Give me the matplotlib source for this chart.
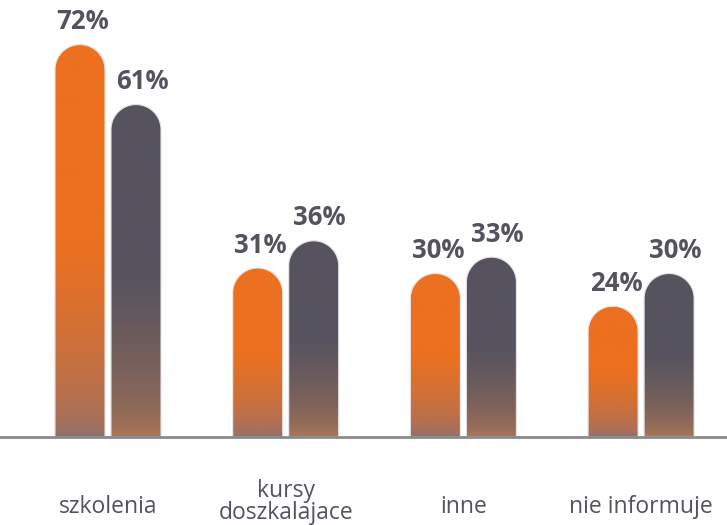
import numpy as np
import matplotlib
matplotlib.use("Agg")
import matplotlib.pyplot as plt
from matplotlib.path import Path
from matplotlib.patches import PathPatch
from matplotlib.colors import to_rgb

categories = ["szkolenia", "kursy\ndoszkalajace", "inne", "nie informuje"]
series_a = [72, 31, 30, 24]   # orange
series_b = [61, 36, 33, 30]   # dark gray

ORANGE, ORANGE_BOT = "#ec7020", "#887075"
GRAY, GRAY_BOT = "#56535f", "#b87a55"
TXT = "#55525e"
plt.rcParams["font.family"] = ["Open Sans", "DejaVu Sans"]

W, H, DPI = 727, 525, 100
fig = plt.figure(figsize=(W / DPI, H / DPI), dpi=DPI)
ax = fig.add_axes([0, 0, 1, 1])

# pixel geometry -> data limits
base_px = 88          # baseline height above bottom edge
py = 5.45             # px per percent
gx = 177.7            # px per group
x0 = 108              # px of first group center
ax.set_ylim(-base_px / py, (H - base_px) / py)
ax.set_xlim(-x0 / gx, (W - x0) / gx)
ax.axis("off")

bw = 50 / gx
off = 28 / gx
ry = 25 / py          # semicircle half-height in data units


def rounded_bar(xc, h, top, bot):
    rx = bw / 2
    t = np.linspace(np.pi, 0, 40)
    verts = [(xc - rx, 0), (xc - rx, h - ry)]
    verts += [(xc + rx * np.cos(a), h - ry + ry * np.sin(a)) for a in t]
    verts += [(xc + rx, 0), (xc - rx, 0)]
    codes = [Path.MOVETO] + [Path.LINETO] * (len(verts) - 2) + [Path.CLOSEPOLY]
    path = Path(verts, codes)
    patch = PathPatch(path, facecolor="none", edgecolor="#e4e2e4", lw=0.8, zorder=3)
    ax.add_patch(patch)
    # vertical gradient, strongest near the baseline
    n = 512
    f = np.linspace(0, 1, n)                 # 0 bottom -> 1 top
    w = np.sqrt(np.clip(f / 0.5, 0, 1))
    c0, c1 = np.array(to_rgb(bot)), np.array(to_rgb(top))
    img = c0[None, :] * (1 - w[:, None]) + c1[None, :] * w[:, None]
    img = np.repeat(img[:, None, :], 2, axis=1)
    im = ax.imshow(img, extent=(xc - rx, xc + rx, 0, h), origin="lower",
                   aspect="auto", zorder=2, interpolation="bilinear")
    im.set_clip_path(patch)


for i, (a, b) in enumerate(zip(series_a, series_b)):
    rounded_bar(i - off, a, ORANGE, ORANGE_BOT)
    rounded_bar(i + off, b, GRAY, GRAY_BOT)
    ax.text(i - off + 3 / gx, a + 23 / py, f"{a}%", ha="center", va="center",
            fontsize=18.5, fontweight="bold", color=TXT)
    ax.text(i + off + 6 / gx, b + 23 / py, f"{b}%", ha="center", va="center",
            fontsize=18.5, fontweight="bold", color=TXT)
    ylab = -65 / py if "\n" in categories[i] else -70 / py
    ax.text(i, ylab, categories[i], ha="center", va="center",
            fontsize=16.5, color=TXT, linespacing=0.9)

ax.axhline(0, color="#8a8a8a", lw=2, zorder=4)

fig.savefig("out.png", dpi=DPI)
